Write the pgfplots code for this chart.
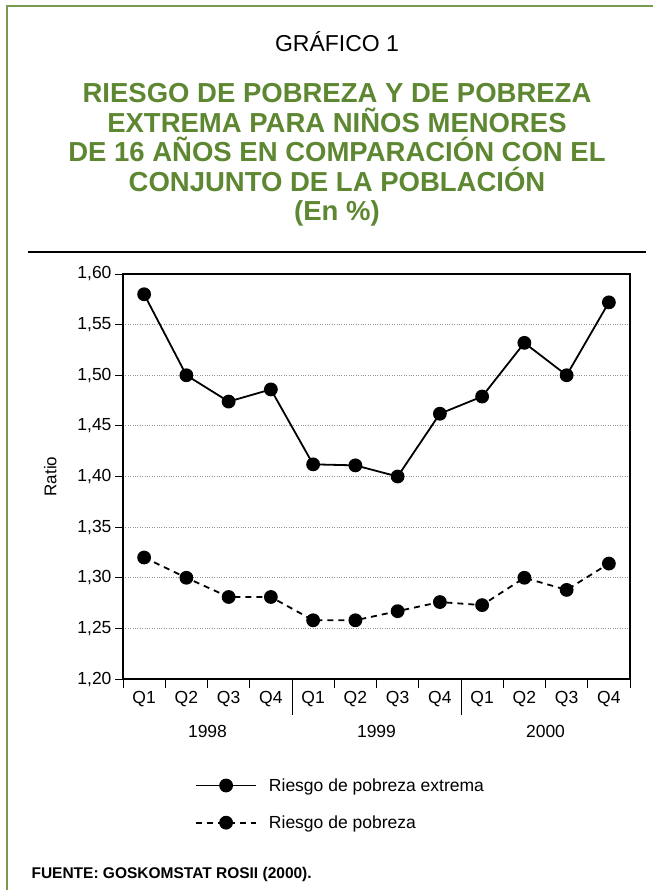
\documentclass[border=0pt]{standalone}
\usepackage{pgfplots}
\pgfplotsset{compat=1.18}
\usepackage{fontspec}
\setmainfont{Liberation Sans}
\definecolor{titgreen}{RGB}{94,135,50}
\definecolor{framegreen}{RGB}{120,155,80}

\begin{document}
\begin{tikzpicture}[x=1pt,y=1pt]
\path[use as bounding box] (0,0) rectangle (653,-890);
% frame and rule
\draw[framegreen, line width=2pt] (7,-890) -- (7,-6) -- (653,-6);
\draw[line width=1.3pt] (28,-252) -- (646,-252);
% titles
\node[font=\fontsize{23}{26}\selectfont] at (337,-42) {GRÁFICO 1};
\node[font=\fontsize{27.5}{29.5}\selectfont\bfseries, text=titgreen, align=center] at (337,-155)
  {RIESGO DE POBREZA Y DE POBREZA\\EXTREMA PARA NIÑOS MENORES\\DE 16 AÑOS EN COMPARACIÓN CON EL\\CONJUNTO DE LA POBLACIÓN\\(En \%)};
\node[font=\fontsize{15.5}{17}\selectfont\bfseries, anchor=base west] at (28,-878) {FUENTE: GOSKOMSTAT ROSII (2000).};

\begin{axis}[
  at={(123pt,-679pt)}, anchor=south west,
  scale only axis, width=507pt, height=405pt,
  xmin=0, xmax=12, ymin=1.20, ymax=1.60,
  xtick={0.5,1.5,...,11.5},
  xticklabels={Q1,Q2,Q3,Q4,Q1,Q2,Q3,Q4,Q1,Q2,Q3,Q4},
  minor xtick={0,1,...,12},
  xtick pos=bottom, ytick pos=left,
  tick align=outside,
  major x tick style={draw=none},
  minor tick length=9pt, major tick length=8pt,
  tick style={line width=1pt, black},
  ytick={1.20,1.25,...,1.60},
  ymajorgrids, grid style={dotted, gray!85, line width=0.9pt},
  axis line style={line width=1.1pt},
  yticklabel style={/pgf/number format/.cd, use comma, fixed, fixed zerofill, precision=2, assume math mode=true},
  ticklabel style={font=\fontsize{17.5}{19}\selectfont},
  xticklabel style={yshift=-1pt},
  ylabel={Ratio}, ylabel style={font=\fontsize{17}{19}\selectfont, yshift=14pt},
  clip=false,
  legend style={at={(0.142,-0.24)}, anchor=north west, draw=none, fill=none,
    font=\fontsize{17.5}{19}\selectfont, row sep=19pt, inner sep=0pt,
    legend cell align=left,
    /tikz/every odd column/.append style={column sep=10pt}},
  legend image code/.code={\draw[mark repeat=2,mark phase=2,#1] plot coordinates {(0pt,0pt) (30pt,0pt) (60pt,0pt)};},
]
\addplot[black, line width=1.8pt, mark=*, mark size=6pt] coordinates {
(0.5,1.580) (1.5,1.500) (2.5,1.474) (3.5,1.486) (4.5,1.412) (5.5,1.411)
(6.5,1.400) (7.5,1.462) (8.5,1.479) (9.5,1.532) (10.5,1.500) (11.5,1.572)};
\addlegendentry{Riesgo de pobreza extrema}
\addplot[black, line width=1.8pt, dash pattern=on 6pt off 5pt, mark=*, mark size=6pt, mark options={solid}] coordinates {
(0.5,1.320) (1.5,1.300) (2.5,1.281) (3.5,1.281) (4.5,1.258) (5.5,1.258)
(6.5,1.267) (7.5,1.276) (8.5,1.273) (9.5,1.300) (10.5,1.288) (11.5,1.314)};
\addlegendentry{Riesgo de pobreza}
% year separators and labels
\draw[line width=1pt] (axis cs:4,1.20) -- ([yshift=-36pt]axis cs:4,1.20);
\draw[line width=1pt] (axis cs:8,1.20) -- ([yshift=-36pt]axis cs:8,1.20);
\node[font=\fontsize{17.5}{19}\selectfont] at ([yshift=-52pt]axis cs:2,1.20) {1998};
\node[font=\fontsize{17.5}{19}\selectfont] at ([yshift=-52pt]axis cs:6,1.20) {1999};
\node[font=\fontsize{17.5}{19}\selectfont] at ([yshift=-52pt]axis cs:10,1.20) {2000};
\end{axis}
\end{tikzpicture}
\end{document}
